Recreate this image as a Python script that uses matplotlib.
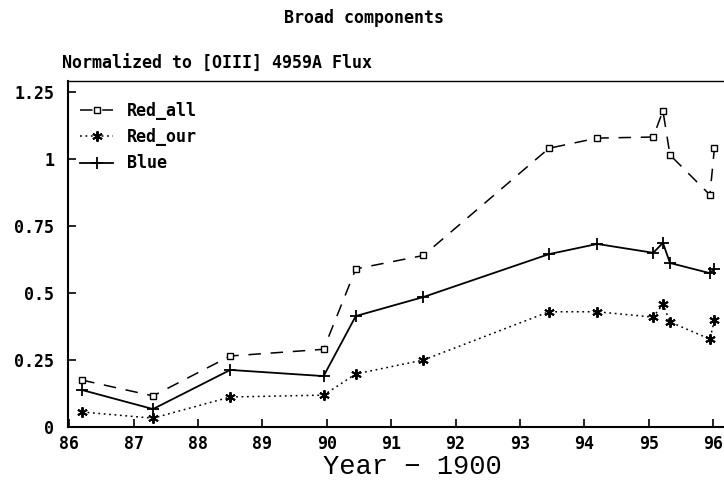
import matplotlib as mpl
mpl.use('Agg')
import matplotlib.pyplot as plt

# epochs (year - 1900) and broad-line fluxes normalised to [OIII] 4959A
year = [86.2, 87.3, 88.5, 89.95, 90.45, 91.5, 93.45, 94.2, 95.07, 95.22, 95.33, 95.95, 96.02]
red_all = [0.175, 0.116, 0.265, 0.29, 0.59, 0.64, 1.04, 1.078, 1.082, 1.18, 1.015, 0.866, 1.04]
red_our = [0.056, 0.033, 0.112, 0.119, 0.198, 0.25, 0.43, 0.43, 0.41, 0.459, 0.392, 0.328, 0.399]
blue = [0.138, 0.067, 0.213, 0.19, 0.414, 0.485, 0.645, 0.683, 0.65, 0.687, 0.612, 0.574, 0.59]

xticks = [86, 87, 88, 89, 90, 91, 92, 93, 94, 95, 96]
xtick_labels = ['86', '87', '88', '89', '90', '91', '92', '93', '94', '95', '96']
yticks = [0, 0.25, 0.5, 0.75, 1, 1.25]
ytick_labels = ['0', '0.25', '0.5', '0.75', '1', '1.25']

mono = 'DejaVu Sans Mono'
plt.rcParams['lines.scale_dashes'] = False

fig = plt.figure(figsize=(7.24, 4.83), dpi=100)
# axes run past the right edge of the page, as on the original printout
ax = fig.add_axes([0.0939, 0.1159, 0.94, 0.7164])

ax.plot(year, red_all, color='black', lw=1.1, dashes=(9, 7),
        marker='s', ms=4.5, mfc='white', mec='black', mew=1.0, label='Red_all')
ax.plot(year, red_our, color='black', lw=1.1, dashes=(1.3, 2.6),
        marker=(6, 2, 0), ms=7.5, mec='black', mew=1.4, label='Red_our')
ax.plot(year, blue, color='black', lw=1.3, linestyle='-',
        marker='+', ms=8, mec='black', mew=1.3, label='Blue')

ax.set_xlim(85.98, 96.55)
ax.set_ylim(0, 1.291)

ax.set_xticks(xticks)
ax.set_xticklabels(xtick_labels, fontfamily=mono, fontweight='bold', fontsize=12)
ax.set_yticks(yticks)
ax.set_yticklabels(ytick_labels, fontfamily=mono, fontweight='bold', fontsize=12)
ax.tick_params(axis='x', direction='in', length=6, width=1.2, pad=6)
ax.tick_params(axis='y', direction='in', length=6, width=1.2, pad=10)

for side in ['left', 'bottom']:
    ax.spines[side].set_linewidth(1.5)
ax.spines['top'].set_linewidth(1.0)
ax.spines['right'].set_visible(False)

leg = ax.legend(loc='upper left', bbox_to_anchor=(0.0176, 0.94), frameon=False,
                borderaxespad=0, borderpad=0, handlelength=2.0, handletextpad=0.8,
                labelspacing=0.5, prop={'family': mono, 'weight': 'bold', 'size': 12})

fig.text(0.503, 0.962, 'Broad components', fontfamily=mono, fontweight='bold',
         fontsize=12, ha='center', va='center')
fig.text(0.0856, 0.868, 'Normalized to [OIII] 4959A Flux', fontfamily=mono,
         fontweight='bold', fontsize=12, ha='left', va='center')
# x-axis title, placed by hand so it sits close under the tick labels
fig.text(0.569, 0.034, 'Year \u2212 1900', fontfamily='Liberation Mono',
         fontsize=19.5, ha='center', va='center')

fig.savefig('out.png', dpi=100)
